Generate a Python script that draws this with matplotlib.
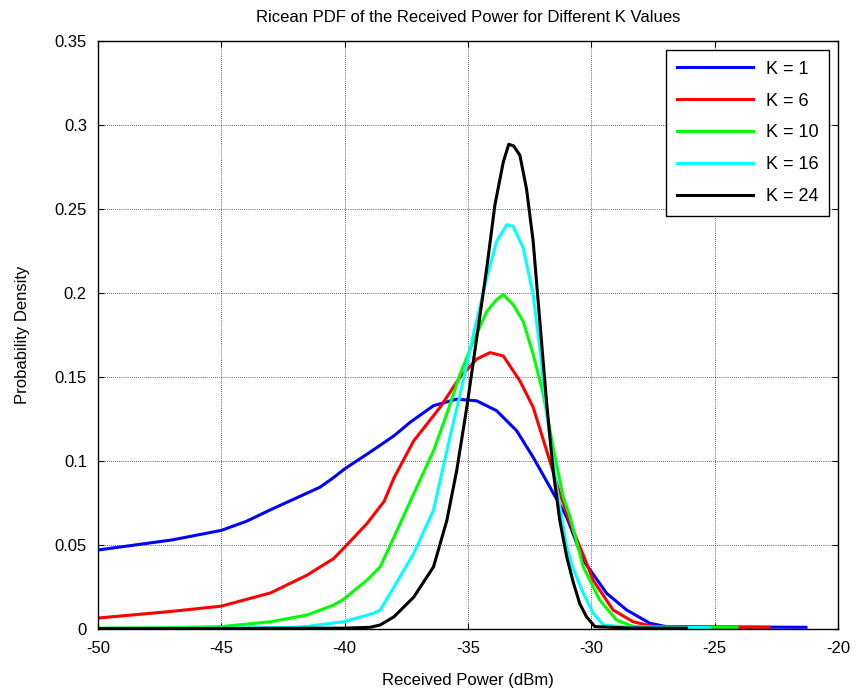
import matplotlib.pyplot as plt
import numpy as np

plt.rcParams['font.family'] = ['Liberation Sans', 'DejaVu Sans']
plt.rcParams['axes.unicode_minus'] = False

# ---------- data ----------
labels = ['K = 1', 'K = 6', 'K = 10', 'K = 16', 'K = 24']
colors = ['#0000ff', '#ff0000', '#00ff00', '#00ffff', '#000000']

x_k1 = [-50, -47, -45, -44, -43, -42, -41, -40.5, -40, -39, -38.5, -38, -37.35, -36.4,
        -35.46, -34.65, -33.84, -33.03, -32.36, -31.68, -31.0, -30.33, -29.38, -28.57,
        -27.63, -27.0, -25, -23, -21.3]
y_k1 = [0.047, 0.053, 0.0587, 0.064, 0.071, 0.0777, 0.0844, 0.0896, 0.0953, 0.105, 0.110,
        0.115, 0.123, 0.1329, 0.1368, 0.1358, 0.1299, 0.118, 0.1022, 0.0844, 0.0666,
        0.0409, 0.0212, 0.0113, 0.0034, 0.0015, 0.0012, 0.0011, 0.001]

x_k6 = [-50, -47, -45, -43, -41.53, -40.45, -40.05, -39.1, -38.4, -38.0, -37.2, -36.13,
        -35.32, -34.65, -34.11, -33.57, -32.9, -32.36, -31.81, -31.28, -30.74, -30.3,
        -29.93, -29.12, -28.31, -27.5, -25, -22.8]
y_k6 = [0.0065, 0.0105, 0.0136, 0.0215, 0.032, 0.0419, 0.0479, 0.0627, 0.076, 0.090,
        0.112, 0.132, 0.150, 0.1606, 0.1645, 0.1625, 0.1477, 0.132, 0.106, 0.0805,
        0.0587, 0.043, 0.029, 0.0113, 0.0043, 0.0015, 0.0011, 0.001]

x_k10 = [-50, -47, -45, -43, -41.53, -40.45, -40.05, -39.1, -38.56, -38.0, -37.2, -36.4,
         -35.86, -35.32, -34.78, -34.24, -33.84, -33.57, -33.17, -32.76, -32.36, -31.95,
         -31.55, -31.14, -30.87, -30.33, -29.66, -28.98, -28.31, -27, -24.1]
y_k10 = [0.0005, 0.0008, 0.0014, 0.0043, 0.0083, 0.0142, 0.0176, 0.029, 0.037, 0.0547,
         0.0805, 0.106, 0.128, 0.1517, 0.1714, 0.189, 0.196, 0.199, 0.193, 0.183, 0.1635,
         0.1398, 0.108, 0.0785, 0.067, 0.037, 0.0172, 0.0053, 0.0015, 0.001, 0.001]

x_k16 = [-50, -45, -42, -41.53, -40.05, -38.83, -38.56, -38.0, -37.2, -36.4, -35.86,
         -35.32, -34.78, -34.24, -33.84, -33.43, -33.17, -32.76, -32.36, -32.09, -31.81,
         -31.41, -31.0, -30.74, -30.33, -29.93, -29.52, -28.5, -25.2]
y_k16 = [0.0003, 0.0005, 0.001, 0.0015, 0.0043, 0.0093, 0.0113, 0.025, 0.045, 0.0706,
         0.106, 0.1398, 0.1754, 0.209, 0.2307, 0.2406, 0.2396, 0.2268, 0.199, 0.1674,
         0.128, 0.0844, 0.0488, 0.036, 0.0213, 0.0095, 0.0024, 0.001, 0.0008]

x_k24 = [-50, -45, -40, -38.97, -38.56, -38.0, -37.2, -36.4, -35.86, -35.46, -35.05,
         -34.65, -34.24, -33.91, -33.57, -33.35, -33.15, -32.9, -32.63, -32.36, -32.09,
         -31.81, -31.55, -31.28, -31.0, -30.74, -30.47, -30.2, -29.86, -28.5, -26.15]
y_k24 = [0.0002, 0.0003, 0.0005, 0.001, 0.0024, 0.0073, 0.019, 0.037, 0.0646, 0.0943,
         0.132, 0.173, 0.215, 0.2525, 0.278, 0.2885, 0.2875, 0.282, 0.262, 0.2307, 0.183,
         0.134, 0.0943, 0.0646, 0.043, 0.028, 0.015, 0.0073, 0.0014, 0.0006, 0.0005]

xs = [x_k1, x_k6, x_k10, x_k16, x_k24]
ys = [y_k1, y_k6, y_k10, y_k16, y_k24]

x_ticks = [-50, -45, -40, -35, -30, -25, -20]
y_ticks = [0, 0.05, 0.1, 0.15, 0.2, 0.25, 0.3, 0.35]
y_tick_labels = ['0', '0.05', '0.1', '0.15', '0.2', '0.25', '0.3', '0.35']

# ---------- plot ----------
fig = plt.figure(figsize=(8.57, 6.94), dpi=100)
ax = fig.add_axes([0.1144, 0.0937, 0.8635, 0.8473])

for x, y, c, lab in zip(xs, ys, colors, labels):
    ax.plot(x, y, color=c, linewidth=2.2, label=lab)

ax.set_xlim(-50, -20)
ax.set_ylim(0, 0.35)
ax.set_xticks(x_ticks)
ax.set_yticks(y_ticks)
ax.set_yticklabels(y_tick_labels)
ax.tick_params(direction='in', top=True, right=True, labelsize=12, length=4)
ax.tick_params(axis='x', pad=9)
ax.tick_params(axis='y', pad=8)
ax.grid(True, color='#333333', linestyle=(0, (1, 1.5)), linewidth=0.6)
for s in ax.spines.values():
    s.set_linewidth(1.0)

ax.set_title('Ricean PDF of the Received Power for Different K Values', fontsize=12, pad=14)
ax.set_xlabel('Received Power (dBm)', fontsize=12, labelpad=12)
ax.set_ylabel('Probability Density', fontsize=12, labelpad=18)

leg = ax.legend(loc='upper right', fontsize=13, handlelength=4.2, labelspacing=0.82,
                fancybox=False, framealpha=1, edgecolor='black',
                borderaxespad=0.5, handletextpad=0.7, borderpad=0.6)
leg.get_frame().set_linewidth(1.0)

fig.savefig('out.png', dpi=100)
